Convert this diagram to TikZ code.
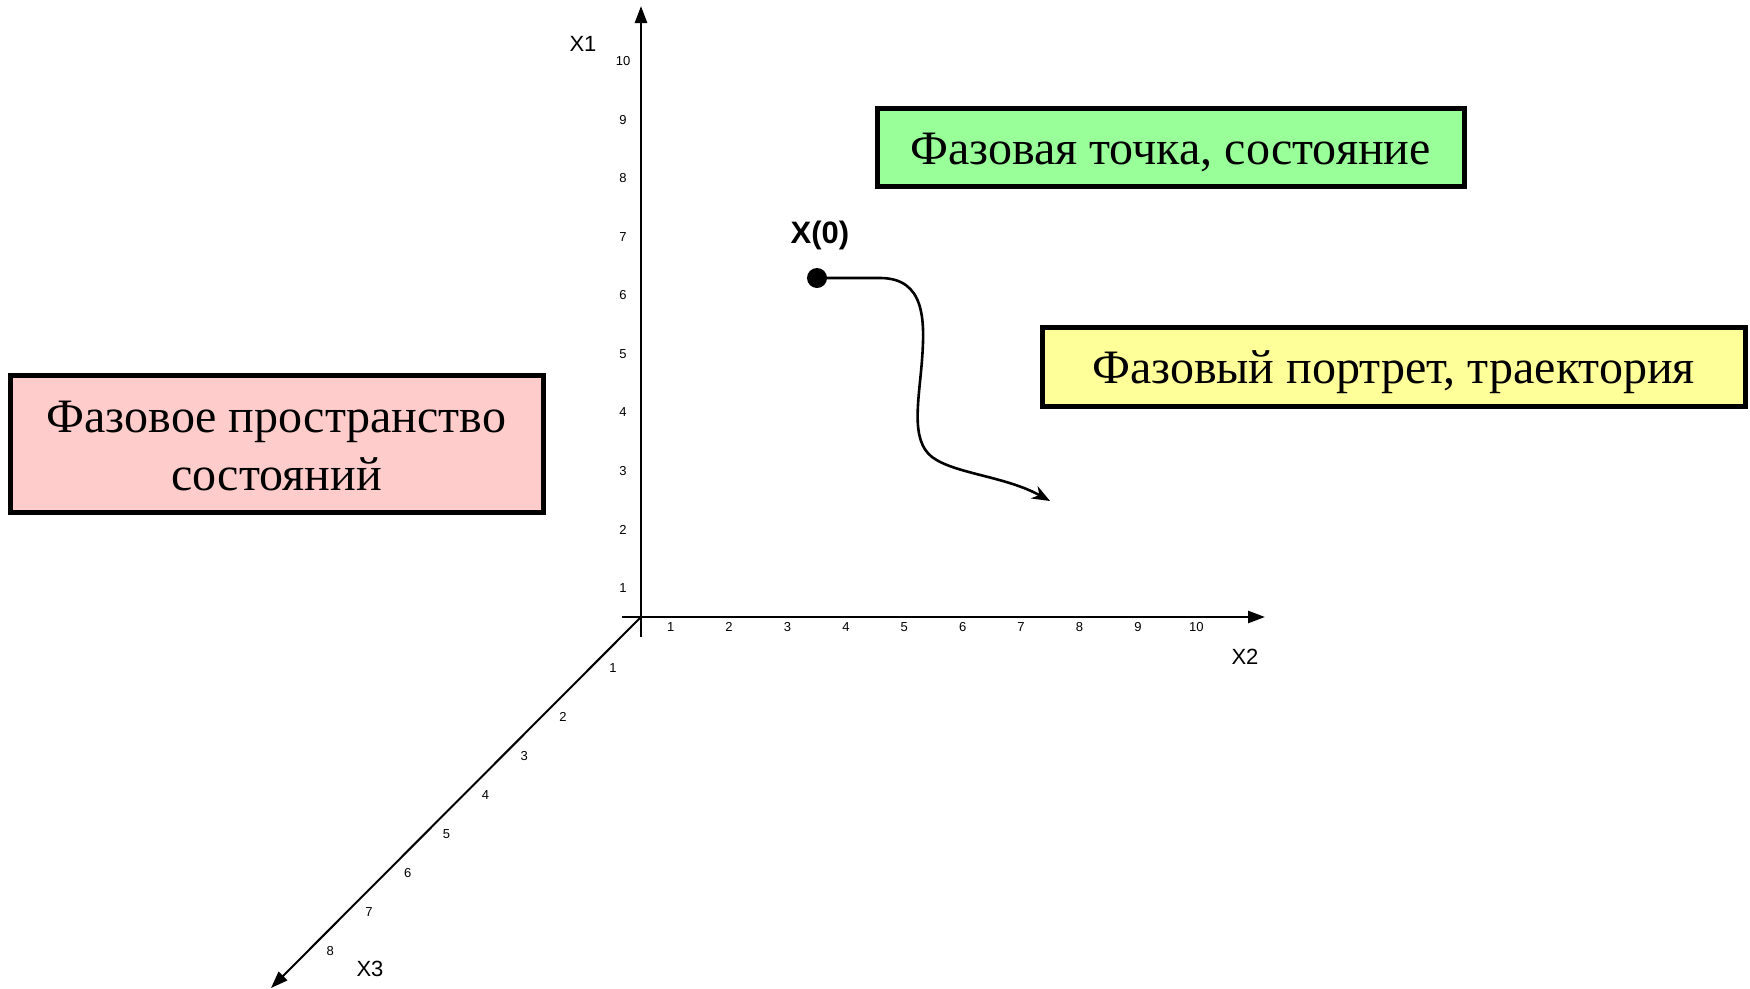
\documentclass[tikz,border=0pt]{standalone}
\usepackage{fontspec}
\setmainfont{Liberation Serif}
\newfontfamily\lsans{Liberation Sans}
\usetikzlibrary{arrows.meta}
\begin{document}
\begin{tikzpicture}[x=1pt,y=-1pt,
  axis/.style={line width=2.6pt,-{Triangle[length=17pt,width=12pt]}},
  axisd/.style={line width=2pt,-{Triangle[length=17pt,width=12pt]}},
  tick/.style={font=\lsans\fontsize{13}{15}\selectfont,inner sep=0pt},
  axlab/.style={font=\lsans\fontsize{22}{26}\selectfont,inner sep=0pt},
  infobox/.style={draw=black,line width=5pt,inner sep=0pt},
  boxtext/.style={font=\fontsize{48}{58}\selectfont,inner sep=0pt,align=center},
  traj/.style={line width=2.6pt,-{Stealth[length=18pt,width=14pt]}}]
\useasboundingbox (0,0) rectangle (1750,988);
% axes
\coordinate (O) at (641,617);
\coordinate (x1top) at (641,6);
\coordinate (x1bot) at (641,637);
\coordinate (x2left) at (622,617);
\coordinate (x2tip) at (1265,617);
\coordinate (x3tip) at (271,988);
\draw[axis] (x1bot) -- (x1top);
\draw[axis] (x2left) -- (x2tip);
\draw[axisd] (O) -- (x3tip);
% axis labels
\node[axlab] (lx1) at (583,44) {X1};
\node[axlab] (lx2) at (1245,657) {X2};
\node[axlab] (lx3) at (370,969) {X3};
% X1 ticks
\foreach \k in {1,...,10}{
  \node[tick] (ty\k) at (623,{588-58.5*(\k-1)}) {\k};
}
% X2 ticks
\foreach \k in {1,...,10}{
  \node[tick] (tx\k) at ({670.7+58.4*(\k-1)},627) {\k};
}
% X3 ticks
\node[tick] (tz1) at (613,668) {1};
\foreach \k in {2,...,8}{
  \node[tick] (tz\k) at ({563-38.8*(\k-2)},{717+39*(\k-2)}) {\k};
}
% boxes
\node[infobox,fill={rgb,255:red,153;green,255;blue,153},minimum width=587pt,minimum height=78pt] (state) at (1170.5,147) {};
\node[boxtext] (statetext) at (1170.5,152) {Фазовая точка, состояние};
\node[infobox,fill={rgb,255:red,255;green,255;blue,153},minimum width=703pt,minimum height=79pt] (portrait) at (1393.5,366.5) {};
\node[boxtext] (portraittext) at (1393.5,372.5) {Фазовый портрет, траектория};
\node[infobox,fill={rgb,255:red,255;green,204;blue,204},minimum width=533pt,minimum height=137pt] (space) at (276.5,443.5) {};
\node[boxtext] (spacetext) at (276.5,446) {Фазовое пространство\\состояний};
% phase point and trajectory
\node[circle,fill=black,inner sep=0pt,minimum size=20pt] (dot) at (817,278) {};
\node[font=\lsans\bfseries\fontsize{31}{36}\selectfont,inner sep=0pt] (x0) at (820,235) {X(0)};
\coordinate (trajend) at (1050,501);
\draw[traj] (dot.center) -- (880,278) .. controls (925,278) and (925,320) .. (922,360) .. controls (919,400) and (910,440) .. (932,457) .. controls (955,474) and (1005,476) .. (trajend);
\end{tikzpicture}
\end{document}
